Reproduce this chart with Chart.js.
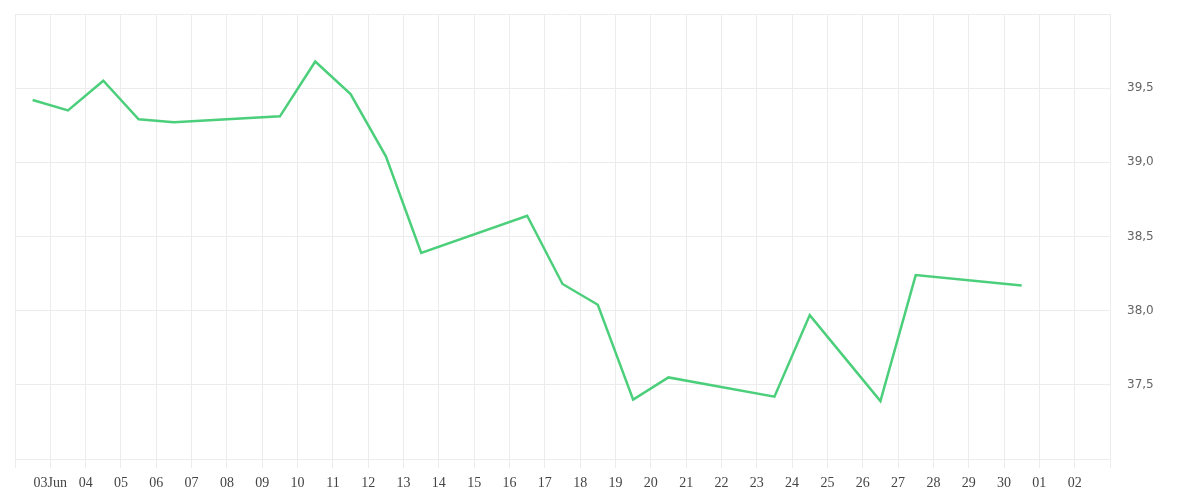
<!DOCTYPE html>
<html>
<head>
<meta charset="utf-8">
<script src="https://cdn.jsdelivr.net/npm/chart.js@4"></script>
<style>
  html, body { margin: 0; padding: 0; background: #fff; }
  #wrap { width: 1200px; height: 500px; }
</style>
</head>
<body>
<div id="wrap"><canvas id="chart"></canvas></div>
<script>
// Trading days shown on the chart
const dates = [
  '2014-06-02', '2014-06-03', '2014-06-04', '2014-06-05', '2014-06-06',
  '2014-06-09', '2014-06-10', '2014-06-11', '2014-06-12', '2014-06-13',
  '2014-06-16', '2014-06-17', '2014-06-18', '2014-06-19', '2014-06-20',
  '2014-06-23', '2014-06-24', '2014-06-25', '2014-06-26', '2014-06-27',
  '2014-06-30'
];

// Values
const values = [
  39.42, 39.35, 39.55, 39.29, 39.27,
  39.31, 39.68, 39.46, 39.04, 38.39,
  38.64, 38.18, 38.04, 37.40, 37.55,
  37.42, 37.97, 37.68, 37.39, 38.24,
  38.17
];

// One label per day boundary, from 2 Jun to 3 Jul
const xTickLabels = [
  '', '03Jun', '04', '05', '06', '07', '08', '09', '10', '11', '12',
  '13', '14', '15', '16', '17', '18', '19', '20', '21', '22',
  '23', '24', '25', '26', '27', '28', '29', '30', '01', '02', ''
];

const yTickValues = [37.5, 38.0, 38.5, 39.0, 39.5];

const startDay = Date.UTC(2014, 5, 2);
const DAY = 86400000;

// each point sits in the middle of its day
const points = dates.map((d, i) => {
  const [y, m, dd] = d.split('-').map(Number);
  return { x: (Date.UTC(y, m - 1, dd) - startDay) / DAY + 0.5, y: values[i] };
});

const gridColor = '#ececec';

new Chart(document.getElementById('chart'), {
  type: 'line',
  data: {
    datasets: [{
      data: points,
      borderColor: '#4ccf7b',
      borderWidth: 2.5,
      pointRadius: 0,
      tension: 0,
      fill: false
    }]
  },
  options: {
    responsive: true,
    maintainAspectRatio: false,
    animation: false,
    layout: { padding: { left: 15, top: 14, right: 0, bottom: 0 } },
    plugins: {
      legend: { display: false },
      tooltip: { enabled: false }
    },
    scales: {
      x: {
        type: 'linear',
        min: 0,
        max: xTickLabels.length - 1,
        offset: false,
        grid: { color: gridColor, tickLength: 9 },
        border: { color: gridColor },
        ticks: {
          stepSize: 1,
          autoSkip: false,
          maxRotation: 0,
          padding: 7,
          color: '#444',
          font: { family: 'Liberation Serif', size: 14 },
          callback: (value) => xTickLabels[value] ?? ''
        },
        afterFit: (scale) => { scale.height = 41; }
      },
      y: {
        position: 'right',
        min: 37,
        max: 40,
        // invisible tick marks push the labels away from the border
        grid: { color: gridColor, tickLength: 17, tickColor: 'rgba(0,0,0,0)' },
        border: { color: gridColor },
        ticks: {
          stepSize: 0.5,
          padding: 0,
          color: '#666',
          font: { family: 'DejaVu Sans', size: 12 },
          callback: (value) => yTickValues.includes(value) ? value.toFixed(1).replace('.', ',') : ''
        },
        afterFit: (scale) => { scale.width = 90; }
      }
    }
  }
});
</script>
</body>
</html>
